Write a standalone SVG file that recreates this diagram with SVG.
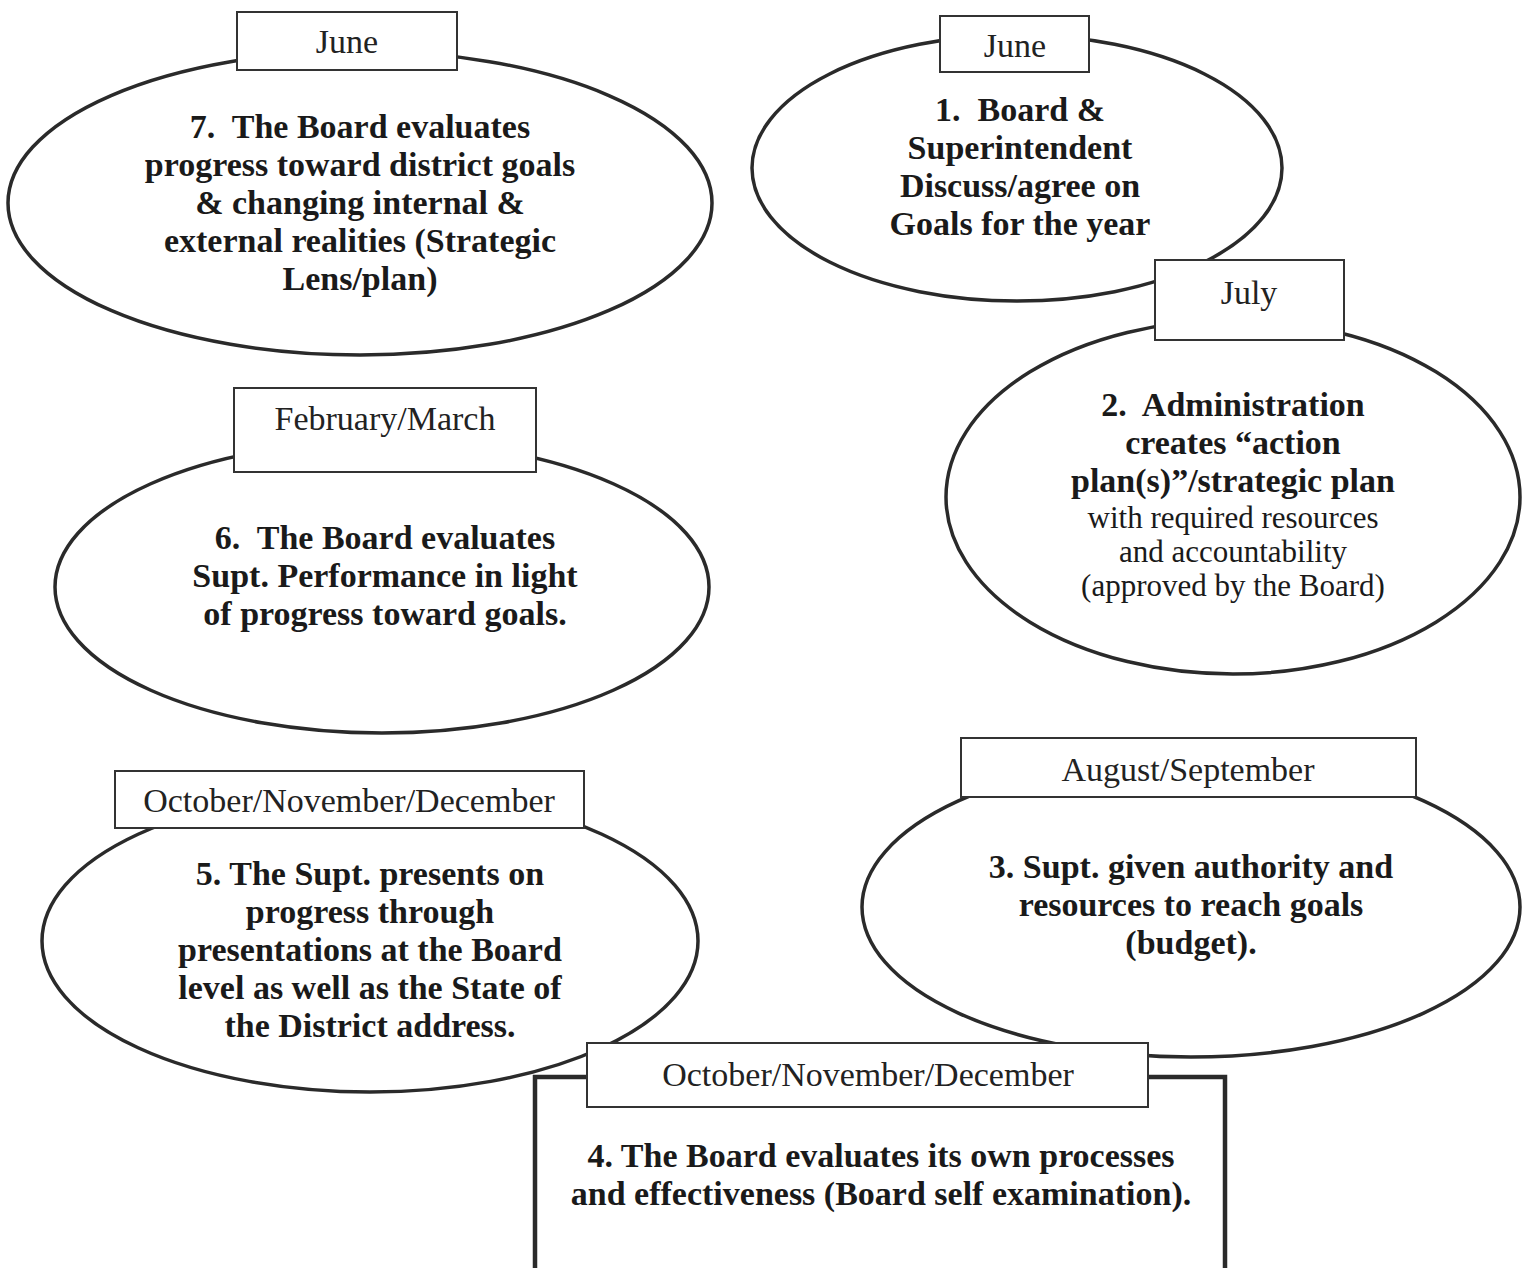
<svg xmlns="http://www.w3.org/2000/svg" width="1530" height="1268" viewBox="0 0 1530 1268">
<style>
.ell{fill:#fff;stroke:#2a2a2a;stroke-width:3.5}
.lbl{fill:#fff;stroke:#333;stroke-width:2}
.big{fill:#fff;stroke:#2a2a2a;stroke-width:4.5}
.m{font-family:"Liberation Serif","DejaVu Serif",serif;font-size:34px;fill:#222;text-anchor:middle}
.b{font-family:"Liberation Serif","DejaVu Serif",serif;font-size:34px;font-weight:bold;fill:#1a1a1a;text-anchor:middle}
.r{font-family:"Liberation Serif","DejaVu Serif",serif;font-size:31px;fill:#1a1a1a;text-anchor:middle}
</style>
<rect width="1530" height="1268" fill="#fff"/>
<g id="connectors"></g>
<g id="node7">
<ellipse class="ell" cx="360" cy="203" rx="352" ry="152"/>
<text class="b" x="360" y="138">7.&#160; The Board evaluates</text>
<text class="b" x="360" y="176">progress toward district goals</text>
<text class="b" x="360" y="214">&amp; changing internal &amp;</text>
<text class="b" x="360" y="252">external realities (Strategic</text>
<text class="b" x="360" y="290">Lens/plan)</text>
</g>
<g id="node1">
<ellipse class="ell" cx="1017" cy="168" rx="265" ry="133"/>
<text class="b" x="1020" y="121">1.&#160; Board &amp;</text>
<text class="b" x="1020" y="159">Superintendent</text>
<text class="b" x="1020" y="197">Discuss/agree on</text>
<text class="b" x="1020" y="235">Goals for the year</text>
</g>
<g id="node2">
<ellipse class="ell" cx="1233" cy="497" rx="287" ry="177"/>
<text class="b" x="1233" y="416">2.&#160; Administration</text>
<text class="b" x="1233" y="454">creates “action</text>
<text class="b" x="1233" y="492">plan(s)”/strategic plan</text>
<text class="r" x="1233" y="528">with required resources</text>
<text class="r" x="1233" y="562">and accountability</text>
<text class="r" x="1233" y="596">(approved by the Board)</text>
</g>
<g id="node6">
<ellipse class="ell" cx="382" cy="587" rx="327" ry="146"/>
<text class="b" x="385" y="549">6.&#160; The Board evaluates</text>
<text class="b" x="385" y="587">Supt. Performance in light</text>
<text class="b" x="385" y="625">of progress toward goals.</text>
</g>
<g id="node5">
<ellipse class="ell" cx="370" cy="941" rx="328" ry="151"/>
<text class="b" x="370" y="885">5. The Supt. presents on</text>
<text class="b" x="370" y="923">progress through</text>
<text class="b" x="370" y="961">presentations at the Board</text>
<text class="b" x="370" y="999">level as well as the State of</text>
<text class="b" x="370" y="1037">the District address.</text>
</g>
<g id="node3">
<ellipse class="ell" cx="1191" cy="907" rx="329" ry="150"/>
<text class="b" x="1191" y="878">3. Supt. given authority and</text>
<text class="b" x="1191" y="916">resources to reach goals</text>
<text class="b" x="1191" y="954">(budget).</text>
</g>
<g id="node4">
<rect class="big" x="535" y="1077" width="690" height="200"/>
<text class="b" x="881" y="1167">4. The Board evaluates its own processes</text>
<text class="b" x="881" y="1205">and effectiveness (Board self examination).</text>
</g>
<g id="labels">
<g id="label7"><rect class="lbl" x="237" y="12" width="220" height="58"/><text class="m" x="347" y="53">June</text></g>
<g id="label1"><rect class="lbl" x="940" y="16" width="149" height="56"/><text class="m" x="1015" y="57">June</text></g>
<g id="label2"><rect class="lbl" x="1155" y="260" width="189" height="80"/><text class="m" x="1249" y="304">July</text></g>
<g id="label6"><rect class="lbl" x="234" y="388" width="302" height="84"/><text class="m" x="385" y="430">February/March</text></g>
<g id="label5"><rect class="lbl" x="115" y="771" width="469" height="57"/><text class="m" x="349" y="812">October/November/December</text></g>
<g id="label3"><rect class="lbl" x="961" y="738" width="455" height="59"/><text class="m" x="1188" y="781">August/September</text></g>
<g id="label4"><rect class="lbl" x="587" y="1043" width="561" height="64"/><text class="m" x="868" y="1086">October/November/December</text></g>
</g>
</svg>
